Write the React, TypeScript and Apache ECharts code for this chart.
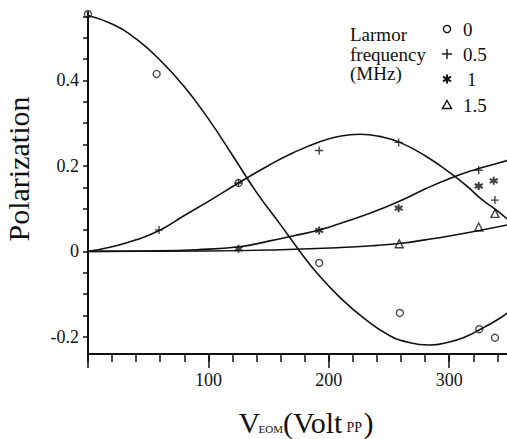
import React, { useEffect, useRef } from "react";
import * as echarts from "echarts";

const FONT = "Liberation Serif";
const INK = "#111";

// axis ticks and labels
const xTicksMinor = [0, 20, 40, 60, 80, 100, 120, 140, 160, 180, 200, 220, 240, 260, 280, 300, 320, 340];
const xTicksMajor = [0, 100, 200, 300];
const xLabels = [100, 200, 300];
const yTicks = [-0.2, -0.15, -0.1, -0.05, 0, 0.05, 0.1, 0.15, 0.2, 0.25, 0.3, 0.35, 0.4, 0.45, 0.5, 0.55];
const yLabels = [-0.2, 0, 0.2, 0.4];

// legend
const legendTitle = ["Larmor", "frequency", "(MHz)"];
const legendNames = ["0", "0.5", "1", "1.5"];

// theory curves (V_EOM, polarization)
const curve0 = [
  [0, 0.552], [20, 0.532], [40, 0.497], [60, 0.447], [80, 0.385], [100, 0.31], [120, 0.225],
  [140, 0.138], [160, 0.062], [176, 0.0], [190, -0.05], [210, -0.11], [230, -0.158],
  [250, -0.196], [265, -0.212], [283, -0.219], [300, -0.212], [315, -0.198], [326, -0.182],
  [340, -0.16], [350, -0.14],
];
const curve05 = [
  [0, 0], [20, 0.011], [40, 0.027], [60, 0.05], [80, 0.084], [100, 0.117], [125, 0.16],
  [150, 0.201], [170, 0.23], [192, 0.256], [210, 0.27], [226, 0.274], [242, 0.269],
  [259, 0.255], [281, 0.222], [301, 0.183], [315, 0.152], [326, 0.124], [337, 0.101], [350, 0.072],
];
const curve1 = [
  [0, 0], [50, 0.001], [90, 0.004], [126, 0.011], [150, 0.024], [170, 0.036], [192, 0.05],
  [210, 0.066], [226, 0.081], [242, 0.098], [260, 0.119], [280, 0.146], [300, 0.17],
  [320, 0.19], [335, 0.202], [350, 0.214],
];
const curve15 = [
  [0, 0], [100, 0.001], [160, 0.004], [210, 0.009], [240, 0.014], [260, 0.019], [280, 0.027],
  [300, 0.036], [325, 0.049], [350, 0.063],
];

// measured points
const pts0 = [[0, 0.555], [57, 0.415], [125, 0.16], [192, -0.027], [259, -0.144], [325, -0.182], [338, -0.202]];
const pts05 = [[59, 0.05], [125, 0.16], [192, 0.236], [258, 0.255], [324.5, 0.19], [338, 0.12]];
const pts1 = [[125, 0.006], [192, 0.049], [258, 0.101], [324.5, 0.153], [337, 0.165]];
const pts15 = [[258.5, 0.018], [324.5, 0.057], [338, 0.089]];

const PLUS = "path://M5,0L5,10M0,5L10,5";
const STAR = "path://M5,0L5,10M0.7,2.5L9.3,7.5M0.7,7.5L9.3,2.5";

function lineSeries(data: number[][]) {
  return {
    type: "line",
    data,
    smooth: true,
    showSymbol: false,
    symbol: "none",
    lineStyle: { color: INK, width: 1.6 },
    silent: true,
    z: 2,
  };
}

function scatterSeries(data: number[][], symbol: string, size: number, bw: number) {
  return {
    type: "scatter",
    data,
    symbol,
    symbolSize: size,
    clip: false,
    itemStyle: { color: "rgba(0,0,0,0)", borderColor: INK, borderWidth: bw },
    z: 3,
  };
}

function txt(text: string, x: number, y: number, size: number, extra: any = {}) {
  return {
    type: "text",
    x,
    y,
    ...extra,
    style: { text, fontFamily: FONT, fontSize: size, fill: INK, align: "left", verticalAlign: "middle", ...(extra.style || {}) },
  };
}

export default function App() {
  const ref = useRef<HTMLDivElement>(null);
  useEffect(() => {
    if (!ref.current) return;
    const chart = echarts.init(ref.current, undefined, { renderer: "svg" });
    const legendX = 447;
    const legendYs = [29, 54, 79, 105];
    const graphics: any[] = [
      txt("Polarization", 18, 169, 30, { rotation: Math.PI / 2, style: { align: "center" } }),
      txt("V", 238.5, 422.2, 30),
      txt("EOM", 258.5, 428.5, 11),
      txt("(Volt", 283, 422.2, 30),
      txt("PP", 346.5, 427.8, 14),
      txt(")", 363.5, 422.2, 30),
    ];
    const titleYs = [34.2, 54.2, 73.7];
    legendTitle.forEach((t, i) => graphics.push(txt(t, 350, titleYs[i], 19)));
    const nameX = [463, 463, 467, 463];
    legendNames.forEach((t, i) => graphics.push(txt(t, nameX[i], legendYs[i], 19)));
    const st = { stroke: INK, lineWidth: 1.4, fill: "none" };
    graphics.push({ type: "circle", shape: { cx: legendX, cy: legendYs[0], r: 3.6 }, style: st });
    graphics.push({ type: "line", shape: { x1: legendX - 5, y1: legendYs[1], x2: legendX + 5, y2: legendYs[1] }, style: st });
    graphics.push({ type: "line", shape: { x1: legendX, y1: legendYs[1] - 5, x2: legendX, y2: legendYs[1] + 5 }, style: st });
    const sy = legendYs[2];
    graphics.push({ type: "line", shape: { x1: legendX, y1: sy - 4.5, x2: legendX, y2: sy + 4.5 }, style: { ...st, lineWidth: 2 } });
    graphics.push({ type: "line", shape: { x1: legendX - 4, y1: sy - 2.3, x2: legendX + 4, y2: sy + 2.3 }, style: { ...st, lineWidth: 2 } });
    graphics.push({ type: "line", shape: { x1: legendX - 4, y1: sy + 2.3, x2: legendX + 4, y2: sy - 2.3 }, style: { ...st, lineWidth: 2 } });
    const ty = legendYs[3];
    graphics.push({
      type: "polygon",
      shape: { points: [[legendX, ty - 4.5], [legendX + 4.5, ty + 3.5], [legendX - 4.5, ty + 3.5]] },
      style: { ...st, lineWidth: 1.5 },
    });

    chart.setOption({
      animation: false,
      backgroundColor: "#fff",
      textStyle: { fontFamily: FONT, color: INK },
      grid: { left: 88, right: 0, top: 12, bottom: 85, containLabel: false },
      xAxis: [
        {
          type: "value",
          min: 0,
          max: 348,
          position: "bottom",
          axisLine: { show: true, onZero: false, lineStyle: { color: INK, width: 2 } },
          axisTick: { show: true, inside: false, length: 8, customValues: xTicksMinor, lineStyle: { color: INK, width: 1.5 } },
          axisLabel: {
            show: true,
            customValues: xLabels,
            margin: 17,
            fontSize: 18,
            fontFamily: FONT,
            color: INK,
            formatter: (v: number) => String(v),
          },
          splitLine: { show: false },
        },
        {
          type: "value",
          min: 0,
          max: 348,
          position: "bottom",
          offset: 0,
          axisLine: { show: false, onZero: false },
          axisTick: { show: true, inside: false, length: 14, customValues: xTicksMajor, lineStyle: { color: INK, width: 1.5 } },
          axisLabel: { show: false },
          splitLine: { show: false },
        },
      ],
      yAxis: {
        type: "value",
        min: -0.24,
        max: 0.56,
        axisLine: { show: true, onZero: false, lineStyle: { color: INK, width: 2 } },
        axisTick: { show: true, inside: false, length: 5, customValues: yTicks, lineStyle: { color: INK, width: 1.5 } },
        axisLabel: {
          show: true,
          customValues: yLabels,
          margin: 9,
          fontSize: 18,
          fontFamily: FONT,
          color: INK,
          formatter: (v: number) => (Math.abs(v) < 1e-9 ? "0" : String(v)),
        },
        splitLine: { show: false },
      },
      series: [
        lineSeries(curve0),
        lineSeries(curve05),
        lineSeries(curve1),
        lineSeries(curve15),
        scatterSeries(pts0, "circle", 7, 1.3),
        scatterSeries(pts05, PLUS, 8, 1.4),
        scatterSeries(pts1, STAR, 8, 2),
        scatterSeries(pts15, "triangle", 8, 1.4),
      ],
      graphic: graphics,
    });
    return () => chart.dispose();
  }, []);
  return <div ref={ref} style={{ position: "absolute", left: 0, top: 0, width: 507, height: 439, background: "#fff" }} />;
}
